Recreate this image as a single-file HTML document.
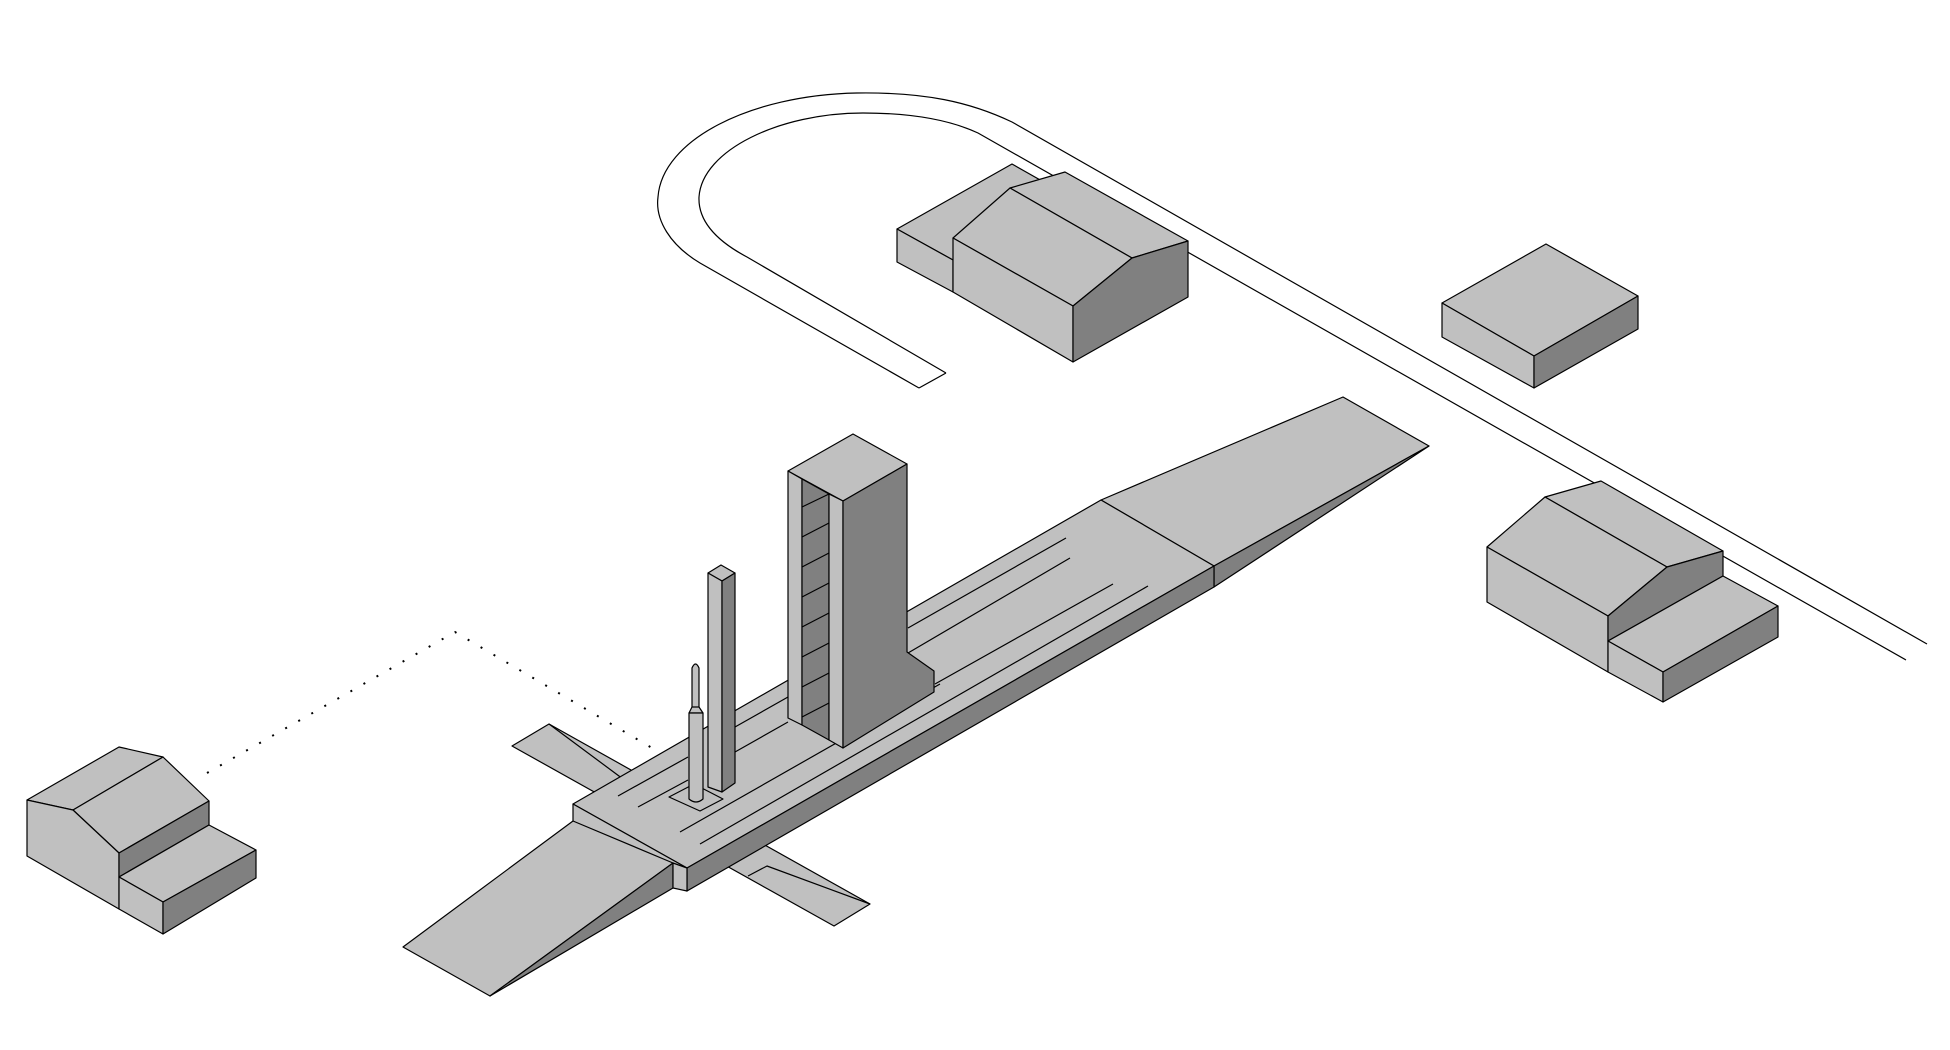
<!DOCTYPE html>
<html><head><meta charset="utf-8"><style>html,body{margin:0;padding:0;background:#fff;}svg{display:block;}</style></head>
<body>
<svg width="1950" height="1050" viewBox="0 0 1950 1050" xmlns="http://www.w3.org/2000/svg">
<g fill="none" stroke="#000" stroke-width="1.2">
<path d="M919,388 L700,263 C670,245 655,220 658,197 C662,140 750,95 857,93 C925,92 970,102 1012,122 L1927,644"/>
<path d="M946,373 L747,257 C715,240 698,220 699,197 C702,150 780,113 863,113 C912,113 950,120 978,133 L1906,660"/>
<path d="M919,388 L946,373"/>
<polyline points="207,773 455,632 652,748" stroke-dasharray="2 13" stroke-width="2"/>
</g>
<g stroke="#000" stroke-width="1.2" stroke-linejoin="round">
<!-- hangar 1 -->
<polygon fill="#c0c0c0" points="897,229 1012,164 1065,194 953,260"/>
<polygon fill="#c0c0c0" points="897,229 953,260 953,292 897,262"/>
<polygon fill="#c0c0c0" points="1010,188 1065,172 1188,241 1132,258"/>
<polygon fill="#c0c0c0" points="953,238 1010,188 1132,258 1073,306"/>
<polygon fill="#c0c0c0" points="953,238 1073,306 1073,362 953,292"/>
<polygon fill="#808080" points="1073,306 1132,258 1188,241 1188,297 1073,362"/>
<!-- small box -->
<polygon fill="#c0c0c0" points="1442,303 1546,244 1638,296 1534,356"/>
<polygon fill="#c0c0c0" points="1442,303 1534,356 1534,388 1442,337"/>
<polygon fill="#808080" points="1534,356 1638,296 1638,329 1534,388"/>
<!-- hangar 2 -->
<polygon fill="#c0c0c0" points="1545,497 1601,481 1723,551 1667,567"/>
<polygon fill="#c0c0c0" points="1487,547 1545,497 1667,567 1608,616"/>
<polygon fill="#c0c0c0" points="1487,547 1608,616 1608,672 1487,602"/>
<polygon fill="#808080" points="1608,616 1667,567 1723,551 1723,576 1608,641"/>
<polygon fill="#c0c0c0" points="1608,641 1723,576 1778,606 1663,672"/>
<polygon fill="#c0c0c0" points="1608,641 1663,672 1663,702 1608,672"/>
<polygon fill="#808080" points="1663,672 1778,606 1778,637 1663,702"/>
<!-- hangar 3 -->
<polygon fill="#c0c0c0" points="27,800 119,747 163,757 73,810"/>
<polygon fill="#c0c0c0" points="73,810 163,757 209,801 119,853"/>
<polygon fill="#c0c0c0" points="27,800 73,810 119,853 119,909 27,856"/>
<polygon fill="#808080" points="119,853 209,801 209,825 119,877"/>
<polygon fill="#c0c0c0" points="119,877 209,825 256,850 163,902"/>
<polygon fill="#c0c0c0" points="119,877 163,902 163,934 119,909"/>
<polygon fill="#808080" points="163,902 256,850 256,878 163,934"/>
<!-- cross beam -->
<polygon fill="#c0c0c0" points="512,746 549,724 870,904 834,926"/>
<polyline fill="none" points="549,724 623,779"/>
<polyline fill="none" points="748,876 767,866 870,904"/>
<!-- right ramp -->
<polygon fill="#c0c0c0" points="1343,397 1429,446 1214,566 1101,500"/>
<polygon fill="#808080" points="1429,446 1214,566 1214,587"/>
<!-- platform -->
<polygon fill="#c0c0c0" points="573,804 1101,500 1214,566 687,868"/>
<polygon fill="#c0c0c0" points="573,804 687,868 687,891 573,821"/>
<polygon fill="#808080" points="687,868 1214,566 1214,587 687,891"/>
<!-- left ramp -->
<polygon fill="#c0c0c0" points="403,947 573,821 673,863 490,996"/>
<polygon fill="#808080" points="490,996 673,863 673,888"/>
<polygon fill="#c0c0c0" points="673,863 687,868 687,891 673,888"/>
<!-- grooves -->
<g fill="none">
<line x1="618" y1="796" x2="688" y2="757"/>
<line x1="638" y1="807" x2="688" y2="780"/>
<line x1="680" y1="832" x2="940" y2="684"/>
<line x1="700" y1="844" x2="1148" y2="586"/>
<line x1="935" y1="684" x2="1113" y2="584"/>
<line x1="908" y1="628" x2="1066" y2="538"/>
<line x1="908" y1="653" x2="1070" y2="558"/>
<line x1="735" y1="727" x2="788" y2="697"/>
<line x1="735" y1="752" x2="788" y2="722"/>
</g>
<!-- tower -->
<polygon fill="#c0c0c0" points="788,471 853,434 907,464 843,501"/>
<polygon fill="#c0c0c0" points="788,471 802,479 802,725 788,718"/>
<polygon fill="#808080" points="802,479 829,494 829,740 802,725"/>
<polygon fill="#c0c0c0" points="829,494 843,501 843,748 829,740"/>
<polygon fill="#808080" points="843,501 907,464 907,652 934,671 934,692 843,748"/>
<g fill="none">
<line x1="802" y1="507" x2="829" y2="494"/>
<line x1="802" y1="537" x2="829" y2="523"/>
<line x1="802" y1="567" x2="829" y2="553"/>
<line x1="802" y1="597" x2="829" y2="583"/>
<line x1="802" y1="627" x2="829" y2="613"/>
<line x1="802" y1="657" x2="829" y2="643"/>
<line x1="802" y1="687" x2="829" y2="673"/>
<line x1="802" y1="717" x2="829" y2="703"/>
</g>
<!-- pad -->
<polygon fill="#c0c0c0" points="669,797 694,784 723,799 700,811"/>
<!-- pole -->
<polygon fill="#c0c0c0" points="708,573 721,565 735,573 722,581"/>
<polygon fill="#c0c0c0" points="708,573 722,581 722,792 708,787"/>
<polygon fill="#808080" points="722,581 735,573 735,783 722,792"/>
<!-- rocket -->
<path fill="#c0c0c0" d="M692,709 L692,668 Q695.5,660 699,668 L699,709 Z"/>
<polygon fill="#c0c0c0" points="692,707 699,707 703,713 689,713"/>
<path fill="#c0c0c0" d="M689,713 L703,713 L703,799 Q696,805 689,799 Z"/>
</g>
</svg>
</body></html>
